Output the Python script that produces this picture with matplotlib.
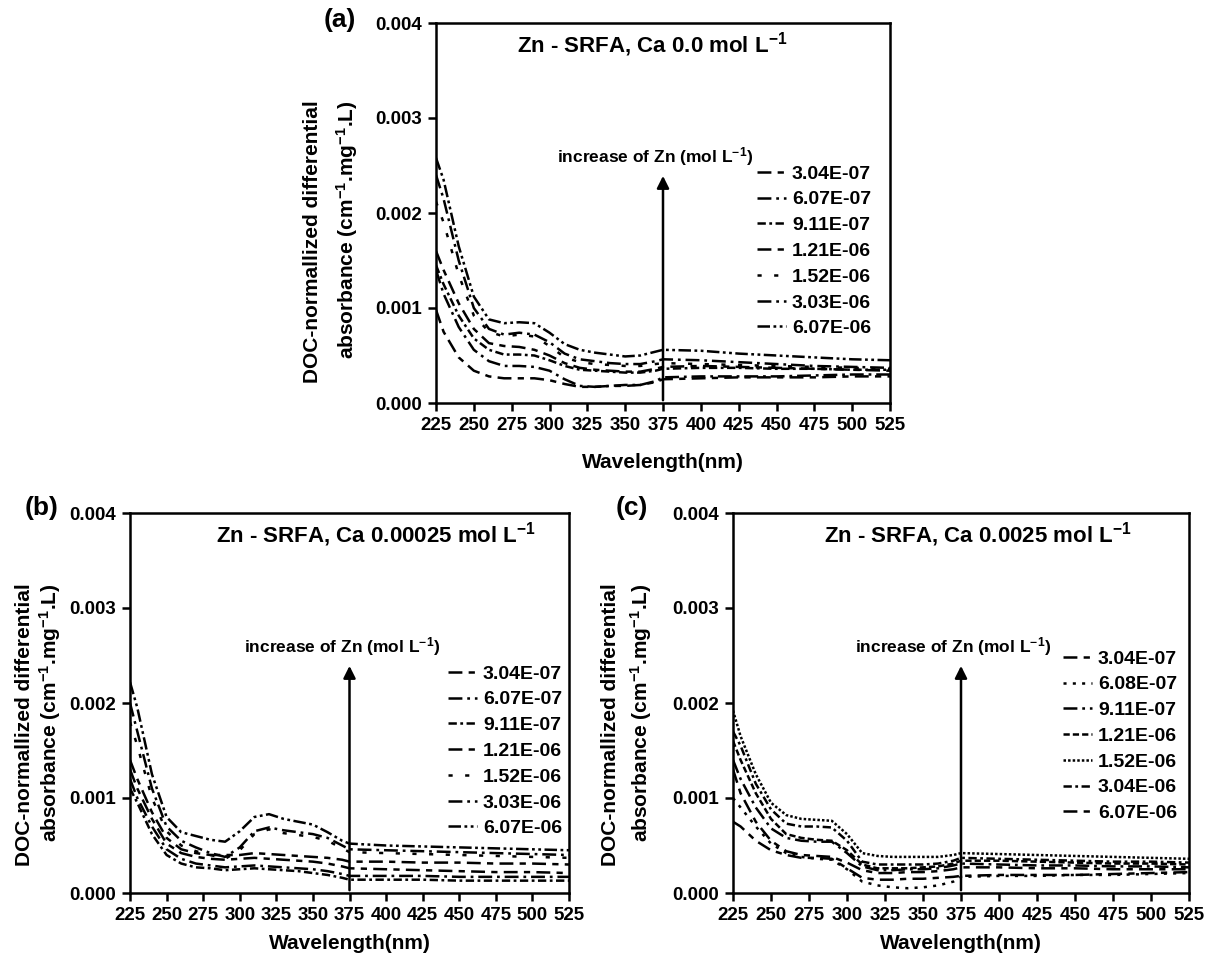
import matplotlib
matplotlib.use('Agg')
import matplotlib.pyplot as plt

plt.rcParams.update({
    'font.family': ['Liberation Sans', 'DejaVu Sans'],
    'font.weight': 'bold',
    'mathtext.fontset': 'custom',
    'mathtext.rm': 'Liberation Sans:bold',
    'mathtext.it': 'Liberation Sans:bold',
    'mathtext.bf': 'Liberation Sans:bold',
    'lines.scale_dashes': False,
    'axes.linewidth': 1.8,
})

# wavelength grid (nm)
wavelength = [225, 230, 240, 250, 260, 270, 280, 290, 300, 310, 320, 330, 340, 350,
              360, 370, 375, 400, 425, 450, 475, 500, 525]

# ---- panel (a): Ca 0.0 mol/L ----
labels_a = ['3.04E-07', '6.07E-07', '9.11E-07', '1.21E-06', '1.52E-06', '3.03E-06', '6.07E-06']
a_304e7 = [.00098, .00075, .00048, .00034, .00028, .00026, .00026, .00026, .00024, .00020, .00017, .00017,
           .00018, .00018, .00019, .00022, .00025, .00026, .00027, .00027, .00027, .00028, .00028]
a_607e7 = [.00140, .00115, .00080, .00056, .00044, .00039, .00039, .00038, .00034, .00025, .00018, .00017,
           .00018, .00019, .00019, .00023, .00027, .00028, .00028, .00028, .00029, .00030, .00030]
a_911e7 = [.00145, .00125, .00092, .00068, .00056, .00051, .00051, .00050, .00045, .00039, .00035, .00034,
           .00033, .00032, .00032, .00034, .00036, .00037, .00037, .00036, .00036, .00035, .00035]
a_121e6 = [.00160, .00140, .00105, .00078, .00063, .00060, .00059, .00056, .00050, .00042, .00037, .00035,
           .00034, .00033, .00033, .00036, .00038, .00039, .00038, .00037, .00036, .00035, .00034]
a_152e6 = [.00212, .00190, .00135, .00092, .00075, .00070, .00072, .00070, .00060, .00048, .00043, .00041,
           .00040, .00039, .00039, .00041, .00042, .00041, .00040, .00039, .00038, .00037, .00036]
a_303e6 = [.00240, .00215, .00150, .00100, .00078, .00072, .00074, .00072, .00064, .00052, .00046, .00044,
           .00042, .00041, .00041, .00044, .00046, .00045, .00043, .00041, .00039, .00038, .00037]
a_607e6 = [.00258, .00235, .00165, .00112, .00088, .00084, .00085, .00084, .00074, .00062, .00056, .00053,
           .00051, .00049, .00050, .00054, .00056, .00055, .00052, .00050, .00048, .00046, .00045]

# ---- panel (b): Ca 0.00025 mol/L ----
labels_b = ['3.04E-07', '6.07E-07', '9.11E-07', '1.21E-06', '1.52E-06', '3.03E-06', '6.07E-06']
b_304e7 = [.00130, .00110, .00078, .00052, .00042, .00038, .00036, .00035, .00036, .00037, .00036, .00035,
           .00034, .00033, .00031, .00028, .00026, .00025, .00024, .00023, .00022, .00022, .00021]
b_607e7 = [.00120, .00100, .00070, .00046, .00036, .00031, .00029, .00027, .00028, .00029, .00028, .00027,
           .00026, .00025, .00023, .00020, .00018, .00018, .00018, .00017, .00017, .00017, .00017]
b_911e7 = [.00110, .00095, .00062, .00040, .00031, .00027, .00026, .00024, .00025, .00026, .00025, .00024,
           .00023, .00021, .00019, .00016, .00014, .00014, .00014, .00013, .00013, .00013, .00013]
b_121e6 = [.00140, .00120, .00085, .00058, .00046, .00042, .00040, .00040, .00040, .00042, .00041, .00040,
           .00039, .00038, .00037, .00035, .00033, .00033, .00032, .00032, .00031, .00031, .00030]
b_152e6 = [.00180, .00155, .00100, .00065, .00050, .00044, .00040, .00036, .00045, .00062, .00067, .00063,
           .00061, .00059, .00055, .00047, .00043, .00042, .00041, .00040, .00039, .00038, .00037]
b_303e6 = [.00200, .00170, .00110, .00070, .00055, .00048, .00042, .00038, .00048, .00065, .00069, .00066,
           .00064, .00062, .00058, .00050, .00046, .00045, .00044, .00043, .00042, .00041, .00040]
b_607e6 = [.00222, .00195, .00125, .00080, .00064, .00060, .00056, .00054, .00065, .00080, .00083, .00078,
           .00075, .00072, .00064, .00055, .00052, .00050, .00049, .00048, .00047, .00046, .00045]

# ---- panel (c): Ca 0.0025 mol/L ----
labels_c = ['3.04E-07', '6.08E-07', '9.11E-07', '1.21E-06', '1.52E-06', '3.04E-06', '6.07E-06']
c_304e7 = [.00130, .00105, .00075, .00055, .00044, .00040, .00039, .00038, .00032, .00024, .00021, .00021,
           .00022, .00022, .00023, .00025, .00027, .00027, .00026, .00026, .00025, .00025, .00025]
c_608e7 = [.00100, .00090, .00070, .00052, .00042, .00038, .00036, .00035, .00025, .00012, .00008, .00006,
           .00005, .00006, .00008, .00012, .00017, .00018, .00018, .00019, .00019, .00020, .00021]
c_911e7 = [.00140, .00120, .00090, .00068, .00058, .00055, .00054, .00054, .00042, .00028, .00024, .00024,
           .00025, .00025, .00026, .00029, .00031, .00030, .00029, .00029, .00028, .00028, .00027]
c_121e6 = [.00160, .00140, .00105, .00078, .00062, .00058, .00056, .00055, .00045, .00030, .00026, .00026,
           .00026, .00027, .00028, .00031, .00034, .00034, .00033, .00032, .00031, .00031, .00030]
c_152e6 = [.00192, .00165, .00125, .00095, .00082, .00078, .00077, .00076, .00062, .00042, .00039, .00038,
           .00038, .00038, .00038, .00040, .00042, .00041, .00040, .00039, .00038, .00037, .00036]
c_304e6 = [.00170, .00155, .00115, .00088, .00073, .00070, .00070, .00069, .00055, .00033, .00030, .00030,
           .00030, .00030, .00031, .00034, .00037, .00036, .00035, .00034, .00033, .00033, .00032]
c_607e6 = [.00075, .00070, .00055, .00045, .00040, .00037, .00037, .00036, .00026, .00016, .00014, .00014,
           .00015, .00015, .00016, .00017, .00018, .00019, .00019, .00019, .00020, .00021, .00022]

# line styles (dash patterns in points)
DASH = (0, (10, 4.5, 4.5, 4.5))
DASHDOT_L = (0, (10, 3.5, 2, 3.5))
DASHDOT_S = (0, (6, 2.5, 2, 2.5))
DOT_WIDE = (0, (3, 9))
DASHDOTDOT = (0, (9, 2.5, 2, 2.5, 2, 2.5))
DOT_MED = (0, (2.2, 4.5))
SHORTDASH = (0, (4.5, 2.2))
DOT_DENSE = (0, (1.8, 1.5))

styles_ab = [DASH, DASHDOT_L, DASHDOT_S, DASH, DOT_WIDE, DASHDOT_L, DASHDOTDOT]
styles_c = [DASH, DOT_MED, DASHDOT_L, SHORTDASH, DOT_DENSE, DASHDOT_S, DASH]

W, H = 1214, 958
fig = plt.figure(figsize=(W / 100, H / 100), dpi=100)


def px_axes(left, top, right, bottom):
    return fig.add_axes([left / W, 1 - bottom / H, (right - left) / W, (bottom - top) / H])


def draw_panel(ax, series, labels, styles, title, title_x, legend_xy, xpad):
    for vals, lab, st in zip(series, labels, styles):
        ax.plot(wavelength, vals, color='black', lw=1.8, linestyle=st, label=lab)
    ax.set_xlim(225, 525)
    ax.set_ylim(0, 0.004)
    ax.set_xticks(range(225, 526, 25))
    ax.set_yticks([0, 0.001, 0.002, 0.003, 0.004])
    ax.set_yticklabels(['0.000', '0.001', '0.002', '0.003', '0.004'])
    ax.tick_params(direction='out', length=6, width=1.8, labelsize=13.5, pad=4,
                   top=False, right=False)
    ax.set_xlabel('Wavelength(nm)', fontsize=15, fontweight='bold', labelpad=xpad)
    ax.text(title_x, 0.00377, title + r' mol L$^{-1}$', fontsize=16, ha='center', va='center')
    ax.annotate('', xy=(375, 0.00242), xytext=(375, 0),
                arrowprops=dict(arrowstyle='-|>', lw=1.8, color='black', mutation_scale=18))
    ax.text(370, 0.00259, r'increase of Zn (mol L$^{-1}$)', fontsize=12.5, ha='center', va='center')
    ax.legend(loc='upper left', bbox_to_anchor=(legend_xy[0] / W, 1 - legend_xy[1] / H),
              bbox_transform=fig.transFigure, frameon=False, fontsize=14,
              handlelength=1.5, handletextpad=0.3, labelspacing=0.42,
              borderpad=0, borderaxespad=0)


def ylabel(x1, x2, yc):
    fig.text(x1 / W, 1 - (yc + 12) / H, 'DOC-normallized differential', rotation=90,
             fontsize=15, ha='center', va='center')
    fig.text(x2 / W, 1 - yc / H, r'absorbance (cm$^{-1}$.mg$^{-1}$.L)', rotation=90,
             fontsize=15, ha='center', va='center')


ax_a = px_axes(436, 23, 890, 403)
draw_panel(ax_a, [a_304e7, a_607e7, a_911e7, a_121e6, a_152e6, a_303e6, a_607e6],
           labels_a, styles_ab, 'Zn - SRFA, Ca 0.0', 368, (757, 165), 14)
ax_b = px_axes(130, 513, 569, 893)
draw_panel(ax_b, [b_304e7, b_607e7, b_911e7, b_121e6, b_152e6, b_303e6, b_607e6],
           labels_b, styles_ab, 'Zn - SRFA, Ca 0.00025', 393, (448, 665), 7)
ax_c = px_axes(733, 513, 1189, 893)
draw_panel(ax_c, [c_304e7, c_608e7, c_911e7, c_121e6, c_152e6, c_304e6, c_607e6],
           labels_c, styles_c, 'Zn - SRFA, Ca 0.0025', 386, (1063, 650), 7)

ylabel(313, 347, 230)
ylabel(25, 50, 713)
ylabel(610, 641, 713)

fig.text(340 / W, 1 - 20 / H, '(a)', fontsize=19, ha='center', va='center')
fig.text(42 / W, 1 - 508 / H, '(b)', fontsize=19, ha='center', va='center')
fig.text(632 / W, 1 - 508 / H, '(c)', fontsize=19, ha='center', va='center')

fig.savefig('out.png', dpi=100)
